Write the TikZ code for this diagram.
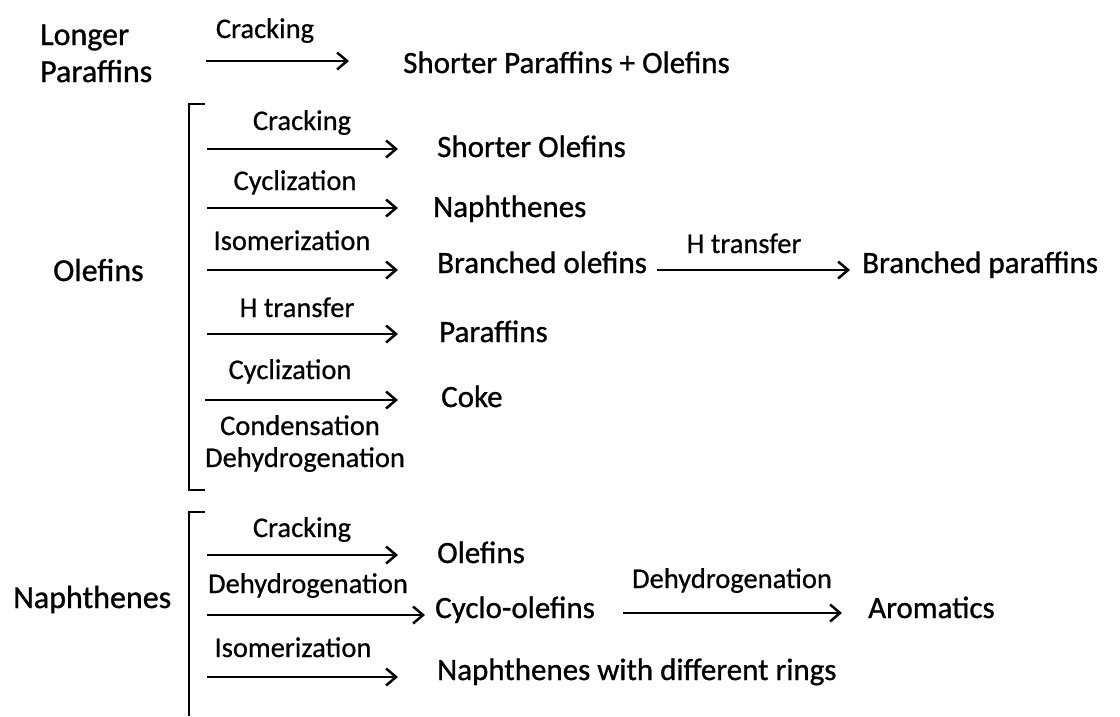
\documentclass[tikz,border=0pt]{standalone}
\usepackage{fontspec}
\setmainfont{Carlito}
\newfontfamily\prodfont{Carlito}[FakeBold=0.9]
\newfontfamily\labfont{Carlito}[FakeBold=0.6]
\usetikzlibrary{arrows.meta}
\begin{document}
\begin{tikzpicture}[x=1pt,y=-1pt,
  rx/.style={line width=2.5pt,-{Straight Barb[length=10pt,width=17pt]}},
  brk/.style={line width=2.5pt},
  prod/.style={font=\prodfont\fontsize{31}{34}\selectfont,anchor=base west,inner sep=0pt},
  head/.style={font=\prodfont\fontsize{32}{35}\selectfont,anchor=base west,inner sep=0pt},
  lab/.style={font=\labfont\fontsize{28.5}{31}\selectfont,anchor=base,inner sep=0pt}]
\useasboundingbox (0,0) rectangle (1120,716);

% ---- top row ----
\node[head] (lp1) at (40,45) {Longer};
\node[head] (lp2) at (40,82) {Paraffins};
\node[lab]  (c0)  at (265,38) {Cracking};
\coordinate (a0s) at (206,61);
\coordinate (a0e) at (349,61);
\node[prod] (spo) at (403,73) {Shorter Paraffins + Olefins};
\draw[rx] (a0s) -- (a0e);

% ---- olefins group ----
\node[head] (ol) at (53,281) {Olefins};
\coordinate (b1t) at (205,104);
\coordinate (b1a) at (189,104);
\coordinate (b1b) at (189,490);
\coordinate (b1e) at (205,490);
\draw[brk] (b1t) -- (b1a) -- (b1b) -- (b1e);

\node[lab] (l1) at (302,130) {Cracking};
\node[lab] (l2) at (295,190) {Cyclization};
\node[lab] (l3) at (292,250) {Isomerization};
\node[lab] (l4) at (297,317) {H transfer};
\node[lab] (l5) at (290,379) {Cyclization};
\node[lab] (l6) at (300,435) {Condensation};
\node[lab] (l7) at (305,467) {Dehydrogenation};

\node[prod] (so)   at (437,157) {Shorter Olefins};
\node[prod] (nap)  at (433,217) {Naphthenes};
\node[prod] (bo)   at (437,273) {Branched olefins};
\node[prod] (par)  at (439,342) {Paraffins};
\node[prod] (coke) at (441,407) {Coke};
\node[prod] (bp)   at (862,273) {Branched paraffins};
\node[lab]  (l8)   at (744,253) {H transfer};

\coordinate (s1) at (207,149); \coordinate (e1) at (398,149);
\coordinate (s2) at (207,208); \coordinate (e2) at (398,208);
\coordinate (s3) at (207,270); \coordinate (e3) at (398,270);
\coordinate (s4) at (207,334); \coordinate (e4) at (398,334);
\coordinate (s5) at (205,400); \coordinate (e5) at (398,400);
\coordinate (s6) at (657,270); \coordinate (e6) at (850,270);
\draw[rx] (s1) -- (e1);
\draw[rx] (s2) -- (e2);
\draw[rx] (s3) -- (e3);
\draw[rx] (s4) -- (e4);
\draw[rx] (s5) -- (e5);
\draw[rx] (s6) -- (e6);

% ---- naphthenes group ----
\node[head] (na) at (13,608) {Naphthenes};
\coordinate (b2t) at (205,512);
\coordinate (b2a) at (189,512);
\coordinate (b2b) at (189,716);
\draw[brk] (b2t) -- (b2a) -- (b2b);

\node[lab] (m1) at (302,537) {Cracking};
\node[lab] (m2) at (308,593) {Dehydrogenation};
\node[lab] (m3) at (293,657) {Isomerization};
\node[lab] (m4) at (732,588) {Dehydrogenation};

\node[prod] (ol2) at (437,563) {Olefins};
\node[prod] (co)  at (435,618) {Cyclo-olefins};
\node[prod] (ndr) at (437,680) {Naphthenes with different rings};
\node[prod] (aro) at (868,618) {Aromatics};

\coordinate (t1) at (207,555); \coordinate (f1) at (398,555);
\coordinate (t2) at (207,615); \coordinate (f2) at (425,615);
\coordinate (t3) at (207,677); \coordinate (f3) at (398,677);
\coordinate (t4) at (623,613); \coordinate (f4) at (842,613);
\draw[rx] (t1) -- (f1);
\draw[rx] (t2) -- (f2);
\draw[rx] (t3) -- (f3);
\draw[rx] (t4) -- (f4);
\end{tikzpicture}
\end{document}
